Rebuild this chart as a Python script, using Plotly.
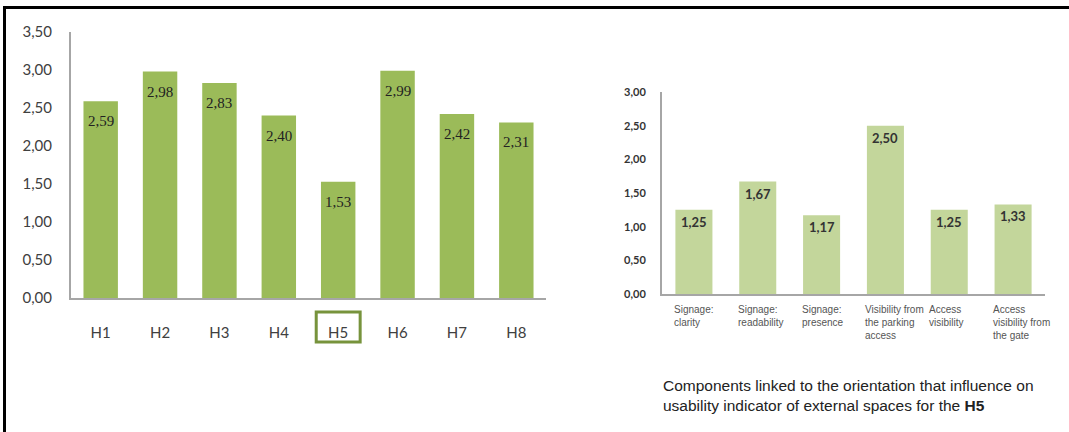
import plotly.graph_objects as go

# Overall usability scores per housing unit
units = ["H1", "H2", "H3", "H4", "H5", "H6", "H7", "H8"]
unit_scores = [2.59, 2.98, 2.83, 2.40, 1.53, 2.99, 2.42, 2.31]

# Orientation components for H5
components = [
    "Signage:<br>clarity",
    "Signage:<br>readability",
    "Signage:<br>presence",
    "Visibility from<br>the parking<br>access",
    "Access<br>visibility",
    "Access<br>visibility from<br>the gate",
]
component_scores = [1.25, 1.67, 1.17, 2.50, 1.25, 1.33]

highlight_unit = "H5"

W, H = 1069, 432
GREEN = "#9BBB59"
LIGHT_GREEN = "#C3D69B"
DARK_GREEN = "#77933C"
AXIS_GREY = "#A6A6A6"
TEXT_GREY = "#404040"

fig = go.Figure()

fig.add_trace(go.Bar(
    x=units, y=unit_scores, marker=dict(color=GREEN, line=dict(width=0)),
    xaxis="x", yaxis="y", hoverinfo="skip", showlegend=False,
))
fig.add_trace(go.Bar(
    x=list(range(len(components))), y=component_scores,
    marker=dict(color=LIGHT_GREEN, line=dict(width=0)),
    xaxis="x2", yaxis="y2", hoverinfo="skip", showlegend=False,
))

annotations = []
# value labels just below the top of each bar
for u, v in zip(units, unit_scores):
    annotations.append(dict(
        x=u, y=v, xref="x", yref="y", text=f"{v:.2f}".replace(".", ","),
        showarrow=False, yanchor="middle", yshift=-20,
        font=dict(family="Liberation Serif", size=15, color="#222222"),
    ))
for i, v in enumerate(component_scores):
    annotations.append(dict(
        x=i, y=v, xref="x2", yref="y2", text=f"{v:.2f}".replace(".", ","),
        showarrow=False, yanchor="middle", yshift=-12,
        font=dict(family="Lato", size=13, color="#333333", weight="bold"),
    ))

# wrapped category labels of the component chart, left aligned
for i, c in enumerate(components):
    annotations.append(dict(
        x=i, y=(H - 302) / H, xref="x2", yref="paper", text=c,
        showarrow=False, xanchor="left", yanchor="top", align="left",
        xshift=-22,
        font=dict(family="Liberation Sans", size=10, color="#555555"),
    ))

# caption under the component chart
annotations.append(dict(
    x=661 / W, y=(H - 375) / H, xref="paper", yref="paper",
    text="Components linked to the orientation that influence on<br>"
         "usability indicator of external spaces for the <b>H5</b>",
    showarrow=False, xanchor="left", yanchor="top", align="left",
    font=dict(family="Liberation Sans", size=15.5, color="#222222"),
))

hi = units.index(highlight_unit)
shapes = [
    # frame lines
    dict(type="line", xref="paper", yref="paper", x0=3 / W, x1=1.0,
         y0=(H - 7.5) / H, y1=(H - 7.5) / H, line=dict(color="black", width=3)),
    dict(type="line", xref="paper", yref="paper", x0=4.5 / W, x1=4.5 / W,
         y0=0, y1=(H - 6) / H, line=dict(color="black", width=3)),
    # highlight box around the H5 tick label
    dict(type="rect", xref="x", yref="paper", x0=hi - 0.37, x1=hi + 0.37,
         y0=(H - 342) / H, y1=(H - 312) / H,
         line=dict(color=DARK_GREEN, width=3)),
]

fig.update_layout(
    width=W, height=H, margin=dict(l=0, r=0, t=0, b=0, autoexpand=False),
    paper_bgcolor="white", plot_bgcolor="white",
    separators=",.", bargap=0.42,
    annotations=annotations, shapes=shapes,
    xaxis=dict(
        domain=[71 / W, 546 / W], anchor="y", showgrid=False, automargin=False,
        showline=True, linecolor=AXIS_GREY, linewidth=2, ticks="",
        tickfont=dict(family="Lato", size=15, color=TEXT_GREY),
        ticklabelstandoff=20, fixedrange=True,
    ),
    yaxis=dict(
        domain=[(H - 298) / H, (H - 32) / H], anchor="x", range=[0, 3.5],
        dtick=0.5, tickformat=".2f", showgrid=False, zeroline=False,
        automargin=False,
        showline=True, linecolor=AXIS_GREY, linewidth=2, ticks="",
        tickfont=dict(family="Lato", size=15, color=TEXT_GREY),
        ticklabelstandoff=14, fixedrange=True,
    ),
    xaxis2=dict(
        domain=[662 / W, 1045 / W], anchor="y2", showgrid=False,
        automargin=False,
        showline=True, linecolor=AXIS_GREY, linewidth=2, ticks="",
        showticklabels=False, range=[-0.5, len(components) - 0.5],
        fixedrange=True,
    ),
    yaxis2=dict(
        domain=[(H - 294) / H, (H - 92) / H], anchor="x2", range=[0, 3],
        dtick=0.5, tickformat=".2f", showgrid=False, zeroline=False,
        automargin=False,
        showline=True, linecolor=AXIS_GREY, linewidth=2, ticks="",
        tickfont=dict(family="Lato", size=11, color="#333333", weight="bold"),
        ticklabelstandoff=12, fixedrange=True,
    ),
)

fig.write_html("out.html")
